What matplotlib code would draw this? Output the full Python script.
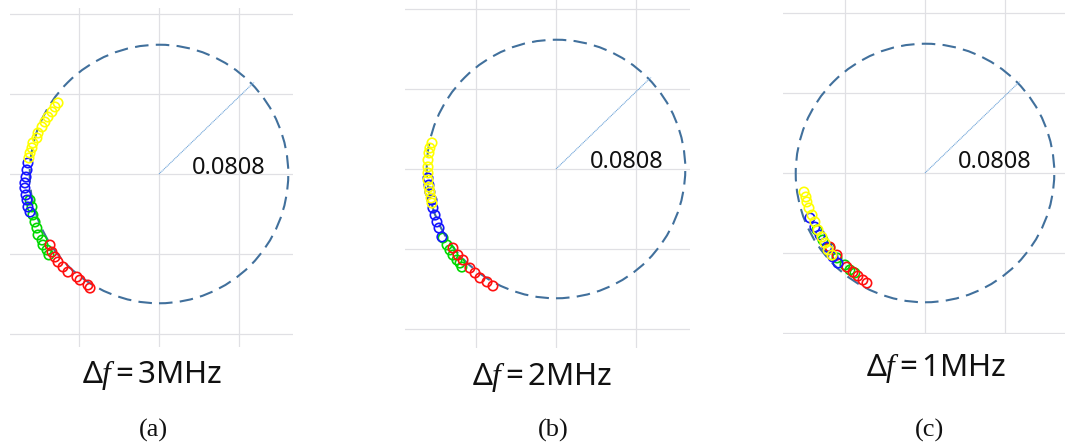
"""
Three-panel polar-ish scatter of sample points around a reference circle
for different frequency offsets.
"""

import matplotlib
matplotlib.use("Agg")
import matplotlib.pyplot as plt
from matplotlib.patches import Circle
import numpy as np

plt.rcParams["mathtext.fontset"] = "custom"
plt.rcParams["mathtext.rm"] = "Noto Sans"
plt.rcParams["mathtext.it"] = "Liberation Serif:italic"

W, H = 1068, 445
PX_PER_UNIT = 80 / 0.05  # one grid cell (0.05) is 80 px wide

RADIUS = 0.0808
RADIUS_LABEL = "0.0808"
PANEL_TAGS = ["(a)", "(b)", "(c)"]
DELTA_F = ["3MHz", "2MHz", "1MHz"]

X_TICKS = [-0.05, 0.0, 0.05]
Y_TICKS = [-0.1, -0.05, 0.0, 0.05, 0.1]

# (a) delta f = 3 MHz
a_yellow_x = [-0.0631, -0.0650, -0.0669, -0.0694, -0.0713, -0.0731, -0.0756, -0.0763, -0.0788, -0.0794, -0.0806, -0.0813]
a_yellow_y = [0.0444, 0.0419, 0.0388, 0.0356, 0.0325, 0.0294, 0.0256, 0.0225, 0.0194, 0.0163, 0.0131, 0.0100]
a_blue_x = [-0.0819, -0.0825, -0.0831, -0.0838, -0.0838, -0.0831, -0.0825, -0.0819, -0.0806]
a_blue_y = [0.0069, 0.0025, -0.0019, -0.0056, -0.0088, -0.0131, -0.0163, -0.0206, -0.0238]
a_green_x = [-0.0806, -0.0794, -0.0788, -0.0775, -0.0763, -0.0756, -0.0731, -0.0725, -0.0700, -0.0688]
a_green_y = [-0.0163, -0.0206, -0.0256, -0.0300, -0.0338, -0.0381, -0.0413, -0.0444, -0.0475, -0.0506]
a_red_x = [-0.0681, -0.0669, -0.0650, -0.0631, -0.0600, -0.0569, -0.0513, -0.0494, -0.0444, -0.0431]
a_red_y = [-0.0444, -0.0488, -0.0519, -0.0550, -0.0581, -0.0613, -0.0644, -0.0663, -0.0694, -0.0713]

# (b) delta f = 2 MHz
b_yellow_x = [-0.0775, -0.0788, -0.0794, -0.0800, -0.0800, -0.0800, -0.0800, -0.0794, -0.0788, -0.0781, -0.0775]
b_yellow_y = [0.0163, 0.0131, 0.0100, 0.0056, 0.0013, -0.0025, -0.0069, -0.0113, -0.0144, -0.0181, -0.0213]
b_blue_x = [-0.0800, -0.0794, -0.0788, -0.0775, -0.0769, -0.0756, -0.0744, -0.0731, -0.0713]
b_blue_y = [-0.0056, -0.0100, -0.0144, -0.0194, -0.0244, -0.0288, -0.0331, -0.0369, -0.0425]
b_green_x = [-0.0706, -0.0681, -0.0663, -0.0644, -0.0619, -0.0600, -0.0588]
b_green_y = [-0.0431, -0.0475, -0.0506, -0.0538, -0.0569, -0.0588, -0.0613]
b_red_x = [-0.0644, -0.0613, -0.0581, -0.0538, -0.0506, -0.0475, -0.0431, -0.0394]
b_red_y = [-0.0494, -0.0538, -0.0569, -0.0619, -0.0650, -0.0681, -0.0706, -0.0731]

# (c) delta f = 1 MHz
c_yellow_x = [-0.0756, -0.0744, -0.0738, -0.0725, -0.0706, -0.0688, -0.0669, -0.0644, -0.0625, -0.0606, -0.0581]
c_yellow_y = [-0.0119, -0.0150, -0.0181, -0.0219, -0.0263, -0.0306, -0.0356, -0.0400, -0.0438, -0.0481, -0.0513]
c_blue_x = [-0.0719, -0.0688, -0.0656, -0.0613, -0.0575, -0.0544]
c_blue_y = [-0.0281, -0.0338, -0.0388, -0.0463, -0.0525, -0.0563]
c_green_x = [-0.0675, -0.0638, -0.0594, -0.0550, -0.0500, -0.0469, -0.0438]
c_green_y = [-0.0356, -0.0419, -0.0469, -0.0531, -0.0575, -0.0606, -0.0625]
c_red_x = [-0.0594, -0.0550, -0.0488, -0.0450, -0.0419, -0.0388, -0.0363]
c_red_y = [-0.0463, -0.0513, -0.0588, -0.0619, -0.0644, -0.0669, -0.0688]

COLORS = {"green": "#00d800", "red": "#ff1010", "blue": "#1515ff", "yellow": "#ffff00"}

panels = [
    {
        "center": (159, 174), "xlim": (-0.093, 0.084), "ylim": (-0.108, 0.104),
        "label_xy": (0.0206, 0.0038), "df_pos": (152, 375), "tag_pos": (153, 430),
        "series": {"green": (a_green_x, a_green_y), "red": (a_red_x, a_red_y),
                   "blue": (a_blue_x, a_blue_y), "yellow": (a_yellow_x, a_yellow_y)},
    },
    {
        "center": (556, 169), "xlim": (-0.0944, 0.0838), "ylim": (-0.112, 0.1056),
        "label_xy": (0.0213, 0.0044), "df_pos": (542, 377), "tag_pos": (553, 430),
        "series": {"green": (b_green_x, b_green_y), "red": (b_red_x, b_red_y),
                   "blue": (b_blue_x, b_blue_y), "yellow": (b_yellow_x, b_yellow_y)},
    },
    {
        "center": (925, 173), "xlim": (-0.0888, 0.0875), "ylim": (-0.1005, 0.108),
        "label_xy": (0.0206, 0.0069), "df_pos": (936, 368), "tag_pos": (929, 430),
        "series": {"green": (c_green_x, c_green_y), "red": (c_red_x, c_red_y),
                   "blue": (c_blue_x, c_blue_y), "yellow": (c_yellow_x, c_yellow_y)},
    },
]

fig = plt.figure(figsize=(W / 100, H / 100), dpi=100)
fig.patch.set_facecolor("white")

for p, tag, df in zip(panels, PANEL_TAGS, DELTA_F):
    cx, cy = p["center"]
    x0, x1 = p["xlim"]
    y0, y1 = p["ylim"]
    left = cx + x0 * PX_PER_UNIT
    right = cx + x1 * PX_PER_UNIT
    top = cy - y1 * PX_PER_UNIT
    bottom = cy - y0 * PX_PER_UNIT
    ax = fig.add_axes([left / W, 1 - bottom / H, (right - left) / W, (bottom - top) / H])
    ax.set_xlim(x0, x1)
    ax.set_ylim(y0, y1)

    ax.set_xticks(X_TICKS)
    ax.set_yticks(Y_TICKS)
    ax.grid(True, color="#e0e0e4", linewidth=0.9)
    ax.set_axisbelow(True)
    ax.tick_params(length=0, labelleft=False, labelbottom=False)
    for s in ax.spines.values():
        s.set_visible(False)

    ax.add_patch(Circle((0, 0), RADIUS, fill=False, edgecolor="#41709c",
                        linewidth=1.5, linestyle=(0, (6.5, 3.5)), zorder=2))

    ang = np.deg2rad(44)
    ax.plot([0, 0.0825 * np.cos(ang)], [0, 0.0825 * np.sin(ang)],
            color="#6fa4d8", linewidth=0.8, linestyle=(0, (1, 0.6)), zorder=2)
    ax.text(p["label_xy"][0], p["label_xy"][1], RADIUS_LABEL, ha="left", va="center",
            fontsize=17, family="Noto Sans", color="#111111")

    for name, (xs, ys) in p["series"].items():
        ax.scatter(xs, ys, s=46, facecolors="none", edgecolors=COLORS[name],
                   linewidths=1.2, zorder=3)

    fig.text(p["df_pos"][0] / W, 1 - p["df_pos"][1] / H, r"$\Delta f = " + df[0] + r"\mathrm{MHz}$",
             ha="center", va="center", fontsize=22.5, color="#111111")
    fig.text(p["tag_pos"][0] / W, 1 - p["tag_pos"][1] / H, tag, ha="center", va="center",
             fontsize=19, family="Liberation Serif", color="#111111")

fig.savefig("out.png", dpi=100, facecolor="white")
